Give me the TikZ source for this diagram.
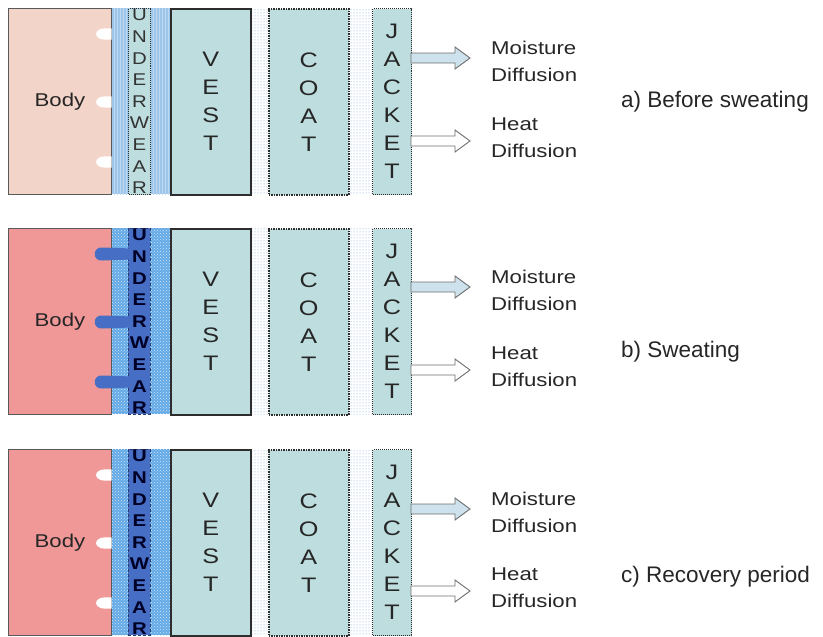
\documentclass[tikz,border=0pt]{standalone}
\usepackage{fontspec}
\setmainfont{Liberation Sans}
\newfontfamily\widefont{Liberation Sans}[FakeStretch=1.2]
\usetikzlibrary{patterns}
\definecolor{bodyA}{RGB}{243,212,200}
\definecolor{bodyB}{RGB}{240,152,152}
\definecolor{layerfill}{RGB}{190,221,223}
\definecolor{stripeA}{RGB}{158,198,234}
\definecolor{stripeAlt}{RGB}{190,216,242}
\definecolor{blueB}{RGB}{100,170,230}
\definecolor{uwB}{RGB}{70,110,196}
\definecolor{gapdot}{RGB}{120,160,210}
\definecolor{edge}{RGB}{45,45,45}
\definecolor{moistfill}{RGB}{205,226,236}
\definecolor{arrowedge}{RGB}{110,110,110}
\tikzset{
 bodybox/.style={draw=gray!70!black, line width=0.8pt, minimum width=103pt, minimum height=186pt, inner sep=0pt, text=black!85, font=\widefont\fontsize{18.5}{22}\selectfont},
 body a/.style={bodybox, fill=bodyA},
 body b/.style={bodybox, fill=bodyB},
 body c/.style={bodybox, fill=bodyB},
 band a/.style={fill=stripeA, postaction={pattern=vertical lines, pattern color=stripeAlt}},
 band b/.style={fill=blueB, postaction={pattern=crosshatch dots, pattern color=white!70!blueB}},
 band c/.style={band b},
 uwbox/.style={minimum width=22pt, minimum height=186pt, inner sep=0pt},
 uw a/.style={uwbox, fill=layerfill, draw=edge, densely dotted, line width=1pt},
 uw b/.style={uwbox, fill=uwB, draw=uwB!55!black, densely dashed, line width=0.8pt},
 uw c/.style={uw b},
 uwt a/.style={align=center, inner sep=0pt, text=black!80, font=\widefont\fontsize{17}{21.6}\selectfont},
 uwt b/.style={align=center, inner sep=0pt, text=black!85!blue, font=\widefont\bfseries\fontsize{17}{21.6}\selectfont},
 uwt c/.style={uwt b},
 layer/.style={fill=layerfill, draw=edge, minimum height=186pt, inner sep=0pt, align=center, text=black!85, font=\widefont\fontsize{21}{28}\selectfont},
 gap/.style={fill=white, postaction={pattern=dots, pattern color=gapdot}},
 flow/.style={draw=arrowedge, line width=0.9pt, line join=miter},
 txt/.style={anchor=west, align=left, inner sep=0pt, text=black!85, font=\widefont\fontsize{18.5}{27}\selectfont},
 lbl/.style={anchor=west, inner sep=0pt, text=black!85, font=\fontsize{22.5}{27}\selectfont},
}
\newcommand\whitedrop[1]{%
 \fill[white] (111.5,#1-5.5) .. controls (101,#1-6.5) and (96,#1-4) .. (96,#1)
   .. controls (96,#1+4) and (101,#1+6.5) .. (111.5,#1+5.5) -- cycle;}
\newcommand\bluedrop[1]{%
 \fill[uwB] (132,#1-5.5) -- (103,#1-6.5) .. controls (92,#1-8) and (92,#1+8) .. (103,#1+6.5)
   -- (132,#1+5.5) -- cycle;}
\newcommand\dropa[1]{\whitedrop{#1}}
\newcommand\dropb[1]{\bluedrop{#1}}
\newcommand\dropc[1]{\whitedrop{#1}}
\newcommand\clothpanel[6]{%
 \path[gap] (250,#2) rectangle (268,#2+186);
 \path[gap] (348,#2) rectangle (372,#2+186);
 \path[band #1] (111,#2) rectangle (170,#2+186);
 \node[body #1, anchor=north west] (body#1) at (8,#2) {Body};
 \node[uw #1, anchor=north west] (uw#1) at (128,#2) {};
 \node[uwt #1] (uwt#1) at (uw#1.center) {U\\N\\D\\E\\R\\W\\E\\A\\R};
 \csname drop#1\endcsname{#2+26}
 \csname drop#1\endcsname{#2+94}
 \csname drop#1\endcsname{#2+154}
 \node[layer, line width=1.5pt, minimum width=80pt, anchor=north west] (vest#1) at (170,#2) {V\\E\\S\\T};
 \node[layer, densely dotted, line width=1.5pt, minimum width=80pt, anchor=north west] (coat#1) at (268,#2) {C\\O\\A\\T};
 \node[layer, densely dotted, line width=1pt, minimum width=39pt, anchor=north west] (jacket#1) at (372,#2) {J\\A\\C\\K\\E\\T};
 \coordinate (ms#1) at (411,#3);
 \coordinate (ht#1) at (411,#4);
 \draw[flow, fill=moistfill] (ms#1) ++(0,-5) -- ++(44,0) -- ++(0,-6) -- ++(15,11) -- ++(-15,11) -- ++(0,-6) -- ++(-44,0) -- cycle;
 \draw[flow, fill=white] (ht#1) ++(0,-5) -- ++(44,0) -- ++(0,-6) -- ++(15,11) -- ++(-15,11) -- ++(0,-6) -- ++(-44,0) -- cycle;
 \node[txt] (mt#1) at (491,#3+3) {Moisture\\Diffusion};
 \node[txt] (hd#1) at (491,#4-3) {Heat\\Diffusion};
 \node[lbl] (lab#1) at (621,#5) {#6};
}
\begin{document}
\begin{tikzpicture}[x=1pt,y=-1pt]
\useasboundingbox (0,0) rectangle (823,637);
\clothpanel{a}{8}{58}{141}{102}{a) Before sweating}
\clothpanel{b}{228}{287}{370}{352}{b) Sweating}
\clothpanel{c}{449}{509}{591}{577}{c) Recovery period}
\end{tikzpicture}
\end{document}
